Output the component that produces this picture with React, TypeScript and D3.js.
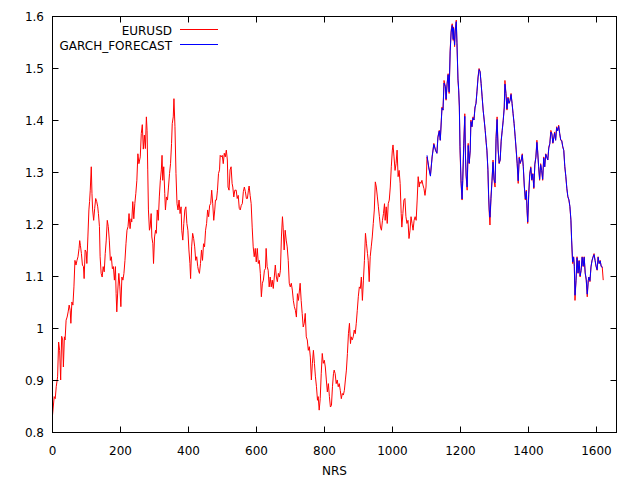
import React from "react";
import * as d3 from "d3";

// ---- data ----
const nrs = [
  0, 5, 8, 11, 15, 18, 21, 24, 27, 30, 32, 35, 37, 40, 43, 46, 49, 52, 54, 57,
  60, 63, 66, 69, 72, 75, 78, 80, 82, 85, 88, 91, 93, 96, 99, 101, 104, 107, 109, 111,
  114, 116, 118, 121, 124, 127, 130, 133, 135, 138, 140, 143, 146, 149, 152, 155, 158, 161, 164, 167,
  170, 173, 176, 179, 182, 185, 187, 189, 192, 195, 198, 201, 204, 207, 210, 213, 216, 219, 222, 225,
  228, 231, 233, 236, 239, 242, 245, 248, 251, 254, 258, 261, 264, 267, 270, 273, 276, 278, 280, 282,
  285, 287, 290, 292, 295, 297, 300, 303, 305, 308, 311, 314, 317, 320, 322, 324, 327, 330, 332, 335,
  338, 341, 344, 347, 350, 352, 355, 357, 360, 363, 366, 369, 372, 375, 378, 380, 383, 386, 389, 392,
  395, 398, 401, 404, 406, 409, 412, 415, 418, 421, 424, 427, 429, 432, 435, 438, 441, 444, 447, 450,
  453, 456, 459, 462, 465, 468, 471, 474, 477, 479, 482, 485, 488, 491, 493, 496, 499, 502, 505, 508,
  511, 514, 516, 519, 522, 525, 528, 530, 533, 536, 540, 543, 546, 549, 552, 555, 558, 561, 564, 567,
  570, 573, 576, 578, 581, 584, 587, 590, 593, 596, 599, 602, 605, 608, 611, 614, 617, 620, 623, 626,
  628, 631, 634, 637, 640, 643, 646, 649, 652, 655, 658, 661, 664, 667, 670, 673, 676, 678, 681, 684,
  687, 690, 693, 696, 699, 702, 705, 708, 711, 714, 717, 720, 723, 726, 728, 731, 734, 737, 740, 743,
  746, 749, 752, 755, 758, 761, 764, 767, 770, 773, 776, 779, 781, 784, 787, 790, 793, 796, 799, 802,
  805, 808, 811, 814, 817, 820, 823, 826, 828, 831, 834, 837, 840, 843, 846, 849, 852, 855, 858, 861,
  864, 867, 870, 873, 876, 878, 881, 884, 887, 890, 893, 896, 899, 902, 905, 908, 911, 914, 917, 920,
  923, 926, 928, 931, 934, 937, 940, 943, 946, 949, 952, 955, 958, 961, 964, 967, 970, 973, 976, 978,
  981, 984, 987, 990, 993, 996, 999, 1001, 1004, 1007, 1010, 1013, 1016, 1019, 1022, 1025, 1027, 1030, 1033, 1036,
  1039, 1042, 1045, 1048, 1051, 1054, 1057, 1060, 1063, 1066, 1069, 1072, 1075, 1078, 1080, 1083, 1086, 1089, 1092, 1095,
  1098, 1101, 1106, 1111, 1116, 1121, 1126, 1130, 1133, 1137, 1140, 1145, 1148, 1151, 1155, 1157, 1160, 1163, 1166, 1169,
  1172, 1175, 1178, 1179, 1182, 1184, 1187, 1189, 1192, 1194, 1196, 1198, 1201, 1204, 1206, 1209, 1212, 1214, 1216, 1219,
  1222, 1225, 1228, 1230, 1233, 1236, 1239, 1242, 1245, 1248, 1251, 1254, 1257, 1260, 1263, 1266, 1269, 1272, 1275, 1277,
  1280, 1282, 1284, 1286, 1289, 1292, 1295, 1298, 1301, 1304, 1307, 1310, 1313, 1316, 1319, 1322, 1325, 1328, 1330, 1333,
  1336, 1339, 1342, 1345, 1348, 1351, 1354, 1357, 1360, 1363, 1366, 1369, 1372, 1375, 1378, 1381, 1384, 1387, 1390, 1393,
  1395, 1397, 1400, 1403, 1406, 1409, 1412, 1415, 1418, 1421, 1424, 1426, 1429, 1432, 1435, 1438, 1441, 1444, 1447, 1450,
  1453, 1456, 1459, 1462, 1465, 1468, 1471, 1474, 1476, 1479, 1482, 1485, 1488, 1491, 1494, 1497, 1500, 1503, 1506, 1509,
  1512, 1515, 1518, 1521, 1524, 1526, 1529, 1532, 1534, 1536, 1539, 1542, 1545, 1548, 1551, 1554, 1557, 1560, 1563, 1566,
  1569, 1572, 1575, 1577, 1580, 1583, 1586, 1589, 1592, 1595, 1598, 1601, 1604, 1607, 1610, 1613, 1616, 1619,
];

const eurusd = [
  0.833, 0.869, 0.865, 0.888, 0.907, 0.974, 0.958, 0.901, 0.985, 0.978, 0.926, 0.984, 0.978, 1.016, 1.022, 1.032, 1.045, 1.035, 1.010, 1.051,
  1.045, 1.080, 1.131, 1.122, 1.131, 1.138, 1.154, 1.169, 1.160, 1.144, 1.122, 1.119, 1.096, 1.151, 1.147, 1.125, 1.176, 1.228, 1.244, 1.266,
  1.311, 1.260, 1.228, 1.208, 1.231, 1.250, 1.244, 1.234, 1.221, 1.196, 1.138, 1.106, 1.099, 1.119, 1.109, 1.144, 1.170, 1.208, 1.196, 1.170,
  1.131, 1.138, 1.115, 1.119, 1.093, 1.119, 1.067, 1.032, 1.074, 1.106, 1.080, 1.042, 1.099, 1.093, 1.106, 1.131, 1.163, 1.189, 1.196, 1.221,
  1.192, 1.211, 1.205, 1.244, 1.211, 1.240, 1.260, 1.285, 1.336, 1.317, 1.330, 1.375, 1.392, 1.345, 1.372, 1.346, 1.407, 1.381, 1.305, 1.228,
  1.189, 1.195, 1.221, 1.176, 1.163, 1.125, 1.176, 1.189, 1.183, 1.228, 1.208, 1.253, 1.285, 1.305, 1.333, 1.285, 1.311, 1.260, 1.228, 1.253,
  1.247, 1.272, 1.298, 1.317, 1.356, 1.394, 1.407, 1.442, 1.388, 1.298, 1.240, 1.228, 1.247, 1.221, 1.234, 1.189, 1.170, 1.202, 1.228, 1.234,
  1.202, 1.189, 1.151, 1.125, 1.096, 1.157, 1.183, 1.173, 1.157, 1.131, 1.138, 1.119, 1.112, 1.106, 1.125, 1.151, 1.131, 1.163, 1.157, 1.189,
  1.202, 1.228, 1.215, 1.237, 1.240, 1.266, 1.240, 1.208, 1.228, 1.247, 1.247, 1.266, 1.298, 1.305, 1.333, 1.330, 1.333, 1.317, 1.337, 1.330,
  1.343, 1.324, 1.272, 1.266, 1.305, 1.311, 1.279, 1.272, 1.253, 1.266, 1.266, 1.250, 1.256, 1.231, 1.228, 1.237, 1.240, 1.263, 1.272, 1.263,
  1.250, 1.250, 1.266, 1.274, 1.256, 1.240, 1.195, 1.157, 1.138, 1.154, 1.128, 1.154, 1.125, 1.131, 1.106, 1.061, 1.087, 1.093, 1.112, 1.115,
  1.154, 1.119, 1.112, 1.080, 1.099, 1.080, 1.093, 1.077, 1.099, 1.122, 1.099, 1.090, 1.106, 1.099, 1.112, 1.176, 1.215, 1.195, 1.151, 1.189,
  1.170, 1.157, 1.131, 1.087, 1.080, 1.087, 1.074, 1.054, 1.042, 1.035, 1.022, 1.067, 1.054, 1.074, 1.087, 1.054, 1.029, 1.003, 1.010, 1.029,
  0.984, 0.978, 0.958, 0.965, 0.945, 0.901, 0.933, 0.958, 0.933, 0.907, 0.888, 0.862, 0.869, 0.843, 0.865, 0.913, 0.952, 0.933, 0.939, 0.926,
  0.901, 0.878, 0.894, 0.869, 0.849, 0.852, 0.888, 0.913, 0.920, 0.913, 0.894, 0.901, 0.888, 0.894, 0.881, 0.865, 0.875, 0.872, 0.881, 0.901,
  0.920, 0.952, 0.990, 1.010, 0.971, 0.984, 0.978, 0.984, 0.997, 0.990, 1.010, 1.035, 1.061, 1.080, 1.077, 1.099, 1.054, 1.093, 1.131, 1.183,
  1.163, 1.144, 1.131, 1.090, 1.138, 1.157, 1.176, 1.202, 1.228, 1.282, 1.272, 1.253, 1.234, 1.215, 1.195, 1.189, 1.208, 1.221, 1.240, 1.208,
  1.234, 1.202, 1.240, 1.247, 1.272, 1.311, 1.343, 1.353, 1.330, 1.304, 1.317, 1.343, 1.292, 1.304, 1.279, 1.221, 1.195, 1.221, 1.247, 1.250,
  1.215, 1.202, 1.208, 1.173, 1.189, 1.215, 1.202, 1.189, 1.208, 1.215, 1.208, 1.247, 1.292, 1.272, 1.282, 1.279, 1.285, 1.276, 1.269, 1.256,
  1.272, 1.330, 1.311, 1.295, 1.330, 1.356, 1.343, 1.337, 1.369, 1.381, 1.362, 1.426, 1.420, 1.477, 1.465, 1.439, 1.471, 1.490, 1.452, 1.535,
  1.574, 1.586, 1.554, 1.580, 1.542, 1.574, 1.593, 1.548, 1.477, 1.458, 1.426, 1.343, 1.279, 1.247, 1.285, 1.356, 1.413, 1.330, 1.292, 1.266,
  1.356, 1.317, 1.343, 1.401, 1.388, 1.407, 1.401, 1.426, 1.433, 1.458, 1.484, 1.500, 1.494, 1.471, 1.445, 1.420, 1.401, 1.381, 1.356, 1.343,
  1.304, 1.253, 1.221, 1.199, 1.253, 1.285, 1.324, 1.285, 1.272, 1.369, 1.407, 1.343, 1.317, 1.324, 1.362, 1.381, 1.401, 1.426, 1.477, 1.452,
  1.420, 1.445, 1.433, 1.439, 1.452, 1.433, 1.413, 1.394, 1.369, 1.343, 1.317, 1.279, 1.330, 1.317, 1.324, 1.336, 1.311, 1.272, 1.247, 1.266,
  1.227, 1.202, 1.260, 1.298, 1.311, 1.285, 1.298, 1.269, 1.317, 1.330, 1.362, 1.343, 1.311, 1.285, 1.317, 1.304, 1.285, 1.330, 1.311, 1.336,
  1.330, 1.324, 1.349, 1.356, 1.381, 1.375, 1.356, 1.369, 1.378, 1.362, 1.388, 1.381, 1.391, 1.375, 1.362, 1.362, 1.349, 1.343, 1.311, 1.292,
  1.269, 1.253, 1.247, 1.234, 1.208, 1.170, 1.125, 1.138, 1.119, 1.054, 1.093, 1.138, 1.106, 1.131, 1.099, 1.112, 1.138, 1.119, 1.138, 1.106,
  1.093, 1.061, 1.093, 1.099, 1.090, 1.119, 1.131, 1.138, 1.144, 1.131, 1.119, 1.112, 1.138, 1.125, 1.131, 1.119, 1.119, 1.093,
];

const garchNrs = [
  1101, 1106, 1111, 1116, 1121, 1126, 1130, 1133, 1137, 1140, 1145, 1148, 1151, 1155, 1157, 1160, 1163, 1166, 1169, 1172,
  1175, 1178, 1179, 1182, 1184, 1187, 1189, 1192, 1194, 1196, 1198, 1201, 1204, 1206, 1209, 1212, 1214, 1216, 1219, 1222,
  1225, 1228, 1230, 1233, 1236, 1239, 1242, 1245, 1248, 1251, 1254, 1257, 1260, 1263, 1266, 1269, 1272, 1275, 1277, 1280,
  1282, 1284, 1286, 1289, 1292, 1295, 1298, 1301, 1304, 1307, 1310, 1313, 1316, 1319, 1322, 1325, 1328, 1330, 1333, 1336,
  1339, 1342, 1345, 1348, 1351, 1354, 1357, 1360, 1363, 1366, 1369, 1372, 1375, 1378, 1381, 1384, 1387, 1390, 1393, 1395,
  1397, 1400, 1403, 1406, 1409, 1412, 1415, 1418, 1421, 1424, 1426, 1429, 1432, 1435, 1438, 1441, 1444, 1447, 1450, 1453,
  1456, 1459, 1462, 1465, 1468, 1471, 1474, 1476, 1479, 1482, 1485, 1488, 1491, 1494, 1497, 1500, 1503, 1506, 1509, 1512,
  1515, 1518, 1521, 1524, 1526, 1529, 1532, 1534, 1536, 1539, 1542, 1545, 1548, 1551, 1554, 1557, 1560, 1563, 1566, 1569,
  1572, 1575, 1577, 1580, 1583, 1586, 1589, 1592, 1595, 1598, 1601, 1604, 1607, 1610, 1613, 1616,
];

const garch = [
  1.333, 1.309, 1.293, 1.330, 1.354, 1.343, 1.337, 1.367, 1.380, 1.362, 1.424, 1.420, 1.472, 1.465, 1.441, 1.470, 1.488, 1.455, 1.532, 1.570,
  1.583, 1.556, 1.578, 1.545, 1.572, 1.590, 1.550, 1.480, 1.460, 1.428, 1.350, 1.285, 1.249, 1.285, 1.352, 1.408, 1.333, 1.295, 1.272, 1.352,
  1.318, 1.343, 1.398, 1.388, 1.405, 1.401, 1.424, 1.433, 1.456, 1.482, 1.498, 1.494, 1.471, 1.446, 1.420, 1.401, 1.381, 1.358, 1.343, 1.306,
  1.258, 1.228, 1.214, 1.250, 1.283, 1.320, 1.287, 1.280, 1.365, 1.402, 1.345, 1.318, 1.324, 1.360, 1.380, 1.400, 1.424, 1.470, 1.452, 1.422,
  1.443, 1.433, 1.438, 1.450, 1.433, 1.413, 1.394, 1.370, 1.345, 1.318, 1.284, 1.328, 1.318, 1.324, 1.334, 1.311, 1.274, 1.249, 1.264, 1.230,
  1.205, 1.258, 1.296, 1.309, 1.286, 1.297, 1.271, 1.315, 1.329, 1.358, 1.343, 1.312, 1.287, 1.315, 1.304, 1.287, 1.328, 1.311, 1.335, 1.330,
  1.324, 1.347, 1.355, 1.378, 1.374, 1.357, 1.368, 1.376, 1.362, 1.386, 1.380, 1.389, 1.375, 1.363, 1.361, 1.350, 1.342, 1.312, 1.293, 1.270,
  1.254, 1.248, 1.235, 1.209, 1.172, 1.128, 1.137, 1.120, 1.064, 1.092, 1.136, 1.107, 1.130, 1.101, 1.112, 1.137, 1.120, 1.137, 1.107, 1.095,
  1.066, 1.092, 1.099, 1.092, 1.118, 1.130, 1.137, 1.142, 1.131, 1.120, 1.113, 1.137, 1.125, 1.130, 1.120, 1.117,
];

const xTicks = [0, 200, 400, 600, 800, 1000, 1200, 1400, 1600];
const yTicks = [0.8, 0.9, 1.0, 1.1, 1.2, 1.3, 1.4, 1.5, 1.6];
const seriesNames = ["EURUSD", "GARCH_FORECAST"];
const seriesColors = ["#ff0000", "#0000ff"];
const xLabel = "NRS";

const FONT = "'DejaVu Sans', sans-serif";

export default function App() {
  const W = 640;
  const H = 480;
  const left = 52.5;
  const right = 616.5;
  const top = 16.5;
  const bottom = 432.5;
  const tickLen = 6;

  const x = d3.scaleLinear().domain([0, 1658]).range([left, right]);
  const y = d3.scaleLinear().domain([0.8, 1.6]).range([bottom, top]);

  const line = d3
    .line<[number, number]>()
    .x((d) => x(d[0]))
    .y((d) => y(d[1]));

  const redData = d3.zip(nrs, eurusd) as [number, number][];
  const blueData = d3.zip(garchNrs, garch) as [number, number][];

  const fmtY = (v: number) => (Math.abs(v - 1) < 1e-9 ? "1" : d3.format(".1f")(v));

  return (
    <div style={{ position: "absolute", left: 0, top: 0 }}>
      <svg width={W} height={H} style={{ display: "block", background: "#fff" }} fontFamily={FONT}>
        <rect x={0} y={0} width={W} height={H} fill="#fff" />
        <g clipPath="url(#plotclip)">
          <path d={line(redData) || ""} fill="none" stroke={seriesColors[0]} strokeWidth={1} />
          <path d={line(blueData) || ""} fill="none" stroke={seriesColors[1]} strokeWidth={1} />
        </g>
        <defs>
          <clipPath id="plotclip">
            <rect x={left} y={top} width={right - left} height={bottom - top} />
          </clipPath>
        </defs>
        {/* frame */}
        <rect x={left} y={top} width={right - left} height={bottom - top} fill="none" stroke="#000" strokeWidth={1} />
        {/* y ticks */}
        {yTicks.map((t) => {
          const yy = Math.round(y(t) - 0.5) + 0.5;
          return (
            <g key={"y" + t}>
              <line x1={left} x2={left + tickLen} y1={yy} y2={yy} stroke="#000" />
              <line x1={right} x2={right - tickLen} y1={yy} y2={yy} stroke="#000" />
              <text x={44} y={yy + 4.5} textAnchor="end" fontSize={12} fill="#000">
                {fmtY(t)}
              </text>
            </g>
          );
        })}
        {/* x ticks */}
        {xTicks.map((t) => {
          const xx = Math.round(x(t) - 0.5) + 0.5;
          return (
            <g key={"x" + t}>
              <line x1={xx} x2={xx} y1={bottom} y2={bottom - tickLen} stroke="#000" />
              <line x1={xx} x2={xx} y1={top} y2={top + tickLen} stroke="#000" />
              <text x={xx} y={455} textAnchor="middle" fontSize={12} fill="#000">
                {t}
              </text>
            </g>
          );
        })}
        <text x={(left + right) / 2} y={475} textAnchor="middle" fontSize={12} fill="#000">
          {xLabel}
        </text>
        {/* legend */}
        {seriesNames.map((name, i) => (
          <g key={name}>
            <text x={172} y={34.5 + i * 15} textAnchor="end" fontSize={12} fill="#000">
              {name}
            </text>
            <line x1={180} x2={218} y1={29.5 + i * 15} y2={29.5 + i * 15} stroke={seriesColors[i]} strokeWidth={1} />
          </g>
        ))}
      </svg>
    </div>
  );
}
